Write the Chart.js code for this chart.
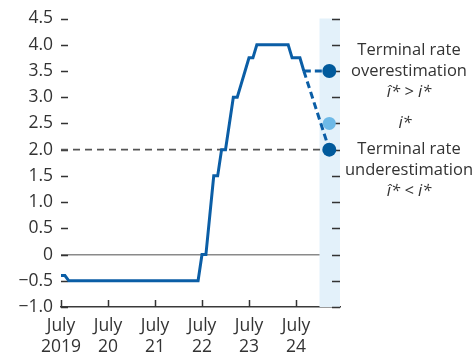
<!DOCTYPE html>
<html>
<head>
<meta charset="utf-8">
<script src="https://cdn.jsdelivr.net/npm/chart.js@4.4.1/dist/chart.umd.min.js"></script>
<style>
  html, body { margin: 0; padding: 0; background: #ffffff; }
  #wrap { width: 475px; height: 358px; }
</style>
</head>
<body>
<div id="wrap"><canvas id="c" width="475" height="358"></canvas></div>
<script>
// Policy rate, end of month, July 2019 – September 2024 (percent)
const months = [
  '2019-07','2019-08','2019-09','2019-10','2019-11','2019-12',
  '2020-01','2020-02','2020-03','2020-04','2020-05','2020-06',
  '2020-07','2020-08','2020-09','2020-10','2020-11','2020-12',
  '2021-01','2021-02','2021-03','2021-04','2021-05','2021-06',
  '2021-07','2021-08','2021-09','2021-10','2021-11','2021-12',
  '2022-01','2022-02','2022-03','2022-04','2022-05','2022-06',
  '2022-07','2022-08','2022-09','2022-10','2022-11','2022-12',
  '2023-01','2023-02','2023-03','2023-04','2023-05','2023-06',
  '2023-07','2023-08','2023-09','2023-10','2023-11','2023-12',
  '2024-01','2024-02','2024-03','2024-04','2024-05','2024-06',
  '2024-07','2024-08','2024-09'
];
const rate = [
  -0.4, -0.4, -0.5, -0.5, -0.5, -0.5,
  -0.5, -0.5, -0.5, -0.5, -0.5, -0.5,
  -0.5, -0.5, -0.5, -0.5, -0.5, -0.5,
  -0.5, -0.5, -0.5, -0.5, -0.5, -0.5,
  -0.5, -0.5, -0.5, -0.5, -0.5, -0.5,
  -0.5, -0.5, -0.5, -0.5, -0.5, -0.5,
  0, 0, 0.75, 1.5, 1.5, 2.0,
  2.0, 2.5, 3.0, 3.0, 3.25, 3.5,
  3.75, 3.75, 4.0, 4.0, 4.0, 4.0,
  4.0, 4.0, 4.0, 4.0, 4.0, 3.75,
  3.75, 3.75, 3.5
];

// Terminal-rate scenarios
const pathStart = '2024-09-01';
const terminalDate = '2025-03-16';
const terminalOver = 3.5;     // î* > i*
const terminalTrue = 2.5;     // i*
const terminalUnder = 2.0;    // î* < i*
const shadeFrom = '2025-01-01';
const axisEnd = '2025-06-08';

// Axis ticks
const xTickDates = ['2019-07-01','2020-07-01','2021-07-01','2022-07-01','2023-07-01','2024-07-01'];
const xTickLabels = [['July','2019'],['July','20'],['July','21'],['July','22'],['July','23'],['July','24']];
const yMin = -1.0, yMax = 4.5, yStep = 0.5;

// Right-hand annotations
const overLabel = ['Terminal rate', 'overestimation', 'î* > i*'];
const trueLabel = 'i*';
const underLabel = ['Terminal rate', 'underestimation', 'î* < i*'];

// Colours
const BLUE = '#0b5ea6';
const DARK_POINT = '#005a9c';
const LIGHT_POINT = '#6db9e7';
const SHADE = '#e3f1fa';
const TEXT = '#333333';
const FONT = '"Open Sans", Lato, sans-serif';

// months elapsed since July 2019 (fractional)
function monthPos(s) {
  const p = s.split('-').map(Number);
  const d = p.length > 2 ? p[2] : 1;
  return (p[0] - 2019) * 12 + (p[1] - 7) + (d - 1) / 30;
}

const ratePoints = months.map((m, i) => ({ x: monthPos(m + '-01'), y: rate[i] }));
const xStart = monthPos(pathStart);
const xTerm = monthPos(terminalDate);
const lastRate = rate[rate.length - 1];

const decor = {
  id: 'decor',
  beforeDatasetsDraw(chart) {
    const { ctx, chartArea: a, scales: { x, y } } = chart;
    ctx.save();
    // forecast window shading
    const sx = x.getPixelForValue(monthPos(shadeFrom));
    ctx.fillStyle = SHADE;
    ctx.fillRect(sx, a.top, a.right - sx, a.bottom - a.top);
    // inward tick marks, left and right
    ctx.strokeStyle = '#333';
    ctx.lineWidth = 1.5;
    y.ticks.forEach(t => {
      const py = Math.round(y.getPixelForValue(t.value)) + 0.5;
      ctx.beginPath();
      ctx.moveTo(a.left, py); ctx.lineTo(a.left + 7, py);
      ctx.moveTo(a.right - 8, py); ctx.lineTo(a.right, py);
      ctx.stroke();
    });
    // upward x ticks
    x.ticks.forEach(t => {
      const px = Math.round(x.getPixelForValue(t.value)) + 0.5;
      ctx.beginPath();
      ctx.moveTo(px, a.bottom); ctx.lineTo(px, a.bottom - 7);
      ctx.stroke();
    });
    ctx.restore();
  },
  afterDraw(chart) {
    const { ctx, chartArea: a, scales: { y } } = chart;
    ctx.save();
    ctx.fillStyle = TEXT;
    ctx.textAlign = 'center';
    ctx.textBaseline = 'middle';
    const cx = a.right + 69;
    const lh = 21;
    const drawLines = (lines, y0) => {
      lines.forEach((s, i) => {
        ctx.font = (i === 2 ? 'italic ' : '') + '16.5px ' + FONT;
        ctx.fillText(s, cx, y0 + i * lh);
      });
    };
    drawLines(overLabel, y.getPixelForValue(terminalOver) - lh);
    ctx.font = 'italic 16.5px ' + FONT;
    ctx.fillText(trueLabel, cx - 4, y.getPixelForValue(terminalTrue));
    drawLines(underLabel, y.getPixelForValue(terminalUnder));
    ctx.restore();
  }
};

new Chart(document.getElementById('c'), {
  type: 'line',
  data: {
    datasets: [
      {
        type: 'scatter',
        data: [
          { x: xTerm, y: terminalOver },
          { x: xTerm, y: terminalTrue },
          { x: xTerm, y: terminalUnder }
        ],
        pointRadius: [7, 6.5, 7],
        pointBackgroundColor: [DARK_POINT, LIGHT_POINT, DARK_POINT],
        pointBorderWidth: 0,
        order: 0
      },
      {
        data: ratePoints,
        borderColor: BLUE, borderWidth: 3, pointRadius: 0,
        borderJoinStyle: 'miter', tension: 0, order: 1
      },
      {
        data: [{ x: xStart, y: lastRate }, { x: xTerm, y: terminalOver }],
        borderColor: BLUE, borderWidth: 3, borderDash: [7, 4], pointRadius: 0, order: 2
      },
      {
        data: [{ x: xStart, y: lastRate }, { x: xTerm, y: terminalUnder }],
        borderColor: BLUE, borderWidth: 3, borderDash: [7, 4], pointRadius: 0, order: 3
      },
      {
        data: [{ x: 0, y: terminalUnder }, { x: xTerm, y: terminalUnder }],
        borderColor: '#555555', borderWidth: 1.8, borderDash: [7, 5], pointRadius: 0, order: 4
      }
    ]
  },
  options: {
    responsive: false,
    animation: false,
    devicePixelRatio: 1,
    layout: { padding: { top: 18, right: 135, left: 0, bottom: 0 } },
    plugins: { legend: { display: false }, tooltip: { enabled: false } },
    scales: {
      x: {
        type: 'linear',
        min: 0,
        max: monthPos(axisEnd),
        afterFit: s => { s.height = 51; },
        afterBuildTicks: s => { s.ticks = xTickDates.map(d => ({ value: monthPos(d) })); },
        grid: { display: false, drawTicks: false },
        border: { display: true, color: '#3a3a3a', width: 1.5 },
        ticks: {
          autoSkip: false, maxRotation: 0, padding: 8.5,
          color: TEXT,
          font: { family: FONT, size: 17.5, lineHeight: 1.2 },
          callback: (v, i) => xTickLabels[i]
        }
      },
      y: {
        min: yMin, max: yMax,
        afterFit: s => { s.width = 61; },
        grid: {
          drawTicks: false,
          color: c => (c.tick && c.tick.value === 0) ? '#8a8a8a' : 'rgba(0,0,0,0)',
          lineWidth: 1.6
        },
        border: { display: false },
        ticks: {
          stepSize: yStep, padding: 8, color: TEXT,
          font: { family: FONT, size: 17.5 },
          callback: v => {
            if (Math.abs(v) < 1e-9) return '0';
            const s = Math.abs(v).toFixed(1);
            return v < 0 ? '\u2212' + s : s;
          }
        }
      }
    }
  },
  plugins: [decor]
});
</script>
</body>
</html>
